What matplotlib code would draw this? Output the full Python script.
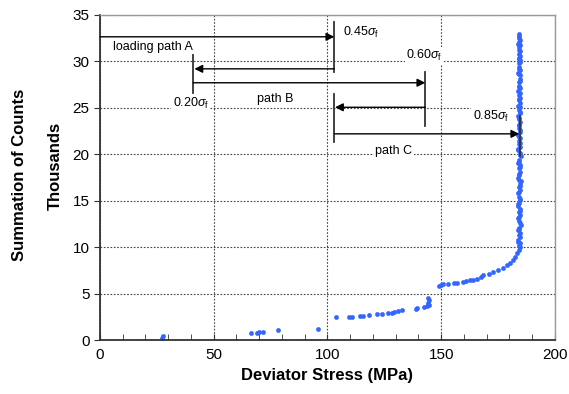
import matplotlib
matplotlib.use("Agg")
import matplotlib.pyplot as plt
from matplotlib.ticker import MultipleLocator

plt.rcParams["font.family"] = ["Liberation Sans", "DejaVu Sans"]
plt.rcParams["mathtext.fontset"] = "custom"
plt.rcParams["mathtext.rm"] = "Liberation Sans"
plt.rcParams["mathtext.it"] = "Liberation Sans:italic"

# AE counts (thousands) vs deviator stress (MPa)
stress_low = [27.1, 27.8, 66.4, 68.9, 69.9, 71.8, 78.1, 96.0, 103.7,
              109.5, 110.9, 114.3, 115.5, 118.4, 121.9, 123.8, 126.7, 128.2,
              129.2, 131.1, 132.7, 138.8, 139.2, 142.4, 143.6, 144.8, 144.3,
              144.8, 144.3]
counts_low = [0.25, 0.46, 0.80, 0.80, 0.90, 0.90, 1.04, 1.18, 2.48,
              2.44, 2.44, 2.55, 2.55, 2.70, 2.84, 2.80, 2.95, 2.95,
              3.05, 3.16, 3.24, 3.38, 3.48, 3.60, 3.67, 3.78, 3.96,
              4.30, 4.50]

stress_mid = [149.0, 149.7, 150.9, 153.1, 155.8, 157.1, 159.4, 160.9, 162.6,
              164.1, 165.6, 167.3, 168.5, 170.8, 172.9, 175.1, 177.0, 178.8,
              180.2, 181.4, 182.4, 183.4, 184.2, 184.6]
counts_mid = [5.86, 5.97, 6.04, 6.04, 6.11, 6.18, 6.26, 6.33, 6.44,
              6.50, 6.58, 6.76, 6.97, 7.12, 7.30, 7.51, 7.77, 8.05,
              8.34, 8.63, 8.99, 9.35, 9.71, 10.06]

stress_top = [184.2, 184.6, 183.9, 184.4, 184.8, 183.7, 184.3, 184.9, 184.1,
              183.8, 184.5, 184.0, 184.7, 183.6, 184.3, 184.8, 184.2, 183.9,
              184.6, 184.1, 184.4, 185.0, 183.8, 184.3, 184.7, 184.0, 184.5,
              183.7, 184.2, 184.9, 184.4, 183.9, 184.6, 184.1, 184.3, 184.8,
              183.8, 184.5, 184.2, 184.0, 184.7, 184.3, 183.9, 184.6, 184.1,
              184.4, 184.8, 184.0, 184.5, 184.2, 183.8, 184.6, 184.3, 184.1,
              184.7, 184.4, 183.9, 184.5, 184.2, 184.0, 184.6, 184.3, 184.1,
              184.5, 184.2, 184.4, 184.0, 184.3, 184.1]
counts_top = [10.1, 10.4, 10.8, 11.1, 11.5, 11.8, 12.1, 12.4, 12.8,
              13.1, 13.5, 13.8, 14.1, 14.4, 14.8, 15.1, 15.4, 15.8,
              16.1, 16.5, 16.8, 17.1, 17.4, 17.8, 18.1, 18.5, 18.8,
              19.1, 19.4, 19.8, 20.1, 20.5, 20.8, 21.1, 21.4, 21.8,
              22.1, 22.4, 22.8, 23.1, 23.5, 23.8, 24.1, 24.4, 24.8,
              25.1, 25.5, 25.8, 26.1, 26.4, 26.8, 27.1, 27.4, 27.8,
              28.1, 28.5, 28.8, 29.1, 29.4, 29.8, 30.1, 30.4, 30.8,
              31.1, 31.5, 31.8, 32.1, 32.5, 32.9]
stress_top2 = [183.9, 184.3, 184.0, 184.6, 184.1, 184.4, 183.8, 184.5, 184.2,
               184.7, 184.0, 184.3, 184.6, 184.1, 184.4, 183.9, 184.5, 184.2,
               184.8, 184.0, 184.3, 184.6, 183.9, 184.2, 184.5, 184.1, 184.7,
               184.3, 184.0, 184.4, 184.6, 184.2, 183.9, 184.5, 184.1, 184.3]
counts_top2 = [10.6, 11.3, 12.0, 12.6, 13.3, 13.9, 14.6, 15.2, 15.9,
               16.6, 17.2, 17.9, 18.6, 19.2, 19.9, 20.6, 21.2, 21.9,
               22.6, 23.2, 23.9, 24.6, 25.2, 25.9, 26.6, 27.2, 27.9,
               28.6, 29.2, 29.9, 30.6, 31.2, 31.9, 32.3, 32.7, 30.3]

# loading / unloading paths: (start stress, end stress, level)
paths = [(0, 103, 32.65), (103, 41.5, 29.2), (41, 143, 27.7),
         (143, 103.3, 25.06), (103, 184.3, 22.2)]
# vertical stop bars: (stress, bottom, top)
bars = [(103, 28.9, 34.2), (41, 26.6, 31.1), (143, 23.0, 28.9),
        (103, 21.3, 26.5), (184.5, 19.8, 24.1)]
labels = [
    (5.6, 31.6, "loading path A", "left"),
    (32, 25.5, r"0.20$\sigma_{\rm f}$", "left"),
    (77, 26.0, "path B", "center"),
    (106.6, 33.1, r"0.45$\sigma_{\rm f}$", "left"),
    (134.5, 30.6, r"0.60$\sigma_{\rm f}$", "left"),
    (163.8, 24.1, r"0.85$\sigma_{\rm f}$", "left"),
    (129.2, 20.3, "path C", "center"),
]

fig = plt.figure(figsize=(5.69, 3.94), dpi=100)
ax = fig.add_axes([0.1757, 0.137, 0.7997, 0.825])
blue = "#3366ff"
for xs, ys in [(stress_low, counts_low), (stress_mid, counts_mid),
               (stress_top, counts_top), (stress_top2, counts_top2)]:
    ax.plot(xs, ys, ls="none", marker="o", ms=3.0, color=blue, mec=blue, mew=0.4)

ax.set_xlim(0, 200)
ax.set_ylim(0, 35)
ax.xaxis.set_major_locator(MultipleLocator(50))
ax.xaxis.set_minor_locator(MultipleLocator(10))
ax.yaxis.set_major_locator(MultipleLocator(5))
ax.grid(True, which="major", ls=(0, (1.5, 1.5)), lw=0.8, color="#444")
ax.tick_params(axis="x", which="both", direction="in", length=4, labelsize=11, pad=6, color="#333")
ax.tick_params(axis="y", direction="out", length=4, labelsize=11, color="#333")
for s in ("left", "bottom"):
    ax.spines[s].set_color("#333")
    ax.spines[s].set_linewidth(1.3)
for s in ("top", "right"):
    ax.spines[s].set_color("#999")
    ax.spines[s].set_linewidth(1.0)

for x0, x1, y in paths:
    ax.annotate("", xy=(x1, y), xytext=(x0, y),
                arrowprops=dict(arrowstyle="-|>", color="black", lw=1.0,
                                mutation_scale=12, shrinkA=0, shrinkB=0))
for x, y0, y1 in bars:
    ax.plot([x, x], [y0, y1], color="#333", lw=1.3)
for x, y, t, ha in labels:
    ax.text(x, y, t, ha=ha, va="center", fontsize=9,
            bbox=dict(facecolor="white", edgecolor="none", pad=1.0))

ax.set_xlabel("Deviator Stress (MPa)", fontsize=12, fontweight="bold", labelpad=4)
fig.text(0.035, 0.555, "Summation of Counts", rotation=90, ha="center", va="center",
         fontsize=12, fontweight="bold")
fig.text(0.097, 0.58, "Thousands", rotation=90, ha="center", va="center",
         fontsize=12, fontweight="bold")

fig.savefig("out.png", dpi=100, facecolor="white")
